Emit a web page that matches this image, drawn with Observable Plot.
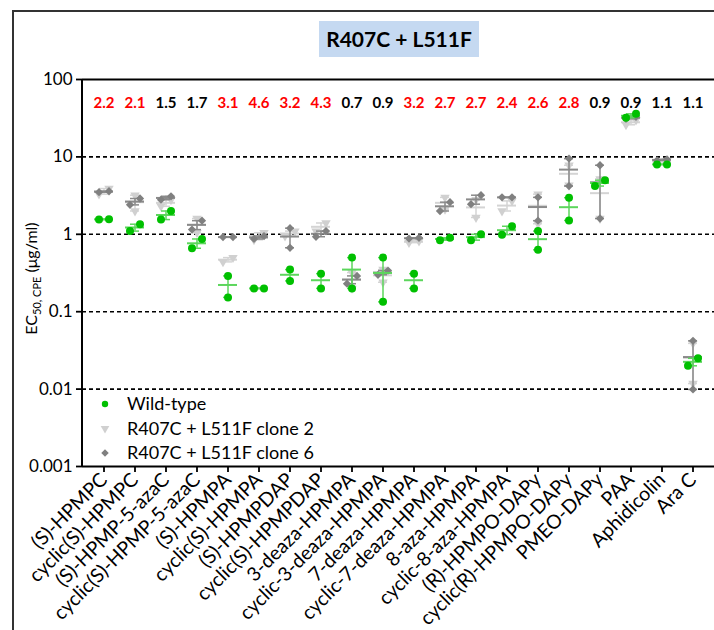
<!DOCTYPE html>
<html><head><meta charset="utf-8">
<script src="https://cdn.jsdelivr.net/npm/d3@7"></script>
<script src="https://cdn.jsdelivr.net/npm/@observablehq/plot@0.6"></script>
<style>
body{margin:0;background:#fff;}
#wrap{position:relative;width:714px;height:630px;overflow:hidden;font-family:Lato,sans-serif;}
#box{position:absolute;left:12px;top:10px;width:800px;height:800px;border:2px solid #333;box-sizing:border-box;}
#title{position:absolute;left:319px;top:21px;width:160px;height:36px;background:#c5d9f1;font-weight:700;font-size:21px;line-height:36px;text-align:center;color:#000;}
#chart{position:absolute;left:0;top:0;}
#chart svg [aria-label$="tick"] path, #chart svg g[aria-label$="axis"] line{stroke-width:1.8px;}
#chart svg g[aria-label="x-axis tick label"]{font-size:19.5px;}
</style></head><body>
<div id="wrap"><div id="box"></div><div id="chart"></div><div id="title">R407C + L511F</div></div>
<script>
const categories = ["(S)-HPMPC","cyclic(S)-HPMPC","(S)-HPMP-5-azaC","cyclic(S)-HPMP-5-azaC","(S)-HPMPA","cyclic(S)-HPMPA","(S)-HPMPDAP","cyclic(S)-HPMPDAP","3-deaza-HPMPA","cyclic-3-deaza-HPMPA","7-deaza-HPMPA","cyclic-7-deaza-HPMPA","8-aza-HPMPA","cyclic-8-aza-HPMPA","(R)-HPMPO-DAPy","cyclic(R)-HPMPO-DAPy","PMEO-DAPy","PAA","Aphidicolin","Ara C"];
const wildType = [[1.55,1.57],[1.10,1.35],[1.55,2.0],[0.66,0.87],[0.29,0.153],[0.2,0.2],[0.25,0.35],[0.31,0.20],[0.5,0.2],[0.5,0.134],[0.31,0.20],[0.84,0.9],[0.84,1.0],[0.99,1.27],[1.1,0.63],[2.97,1.51],[4.2,5.0],[32,36],[8.0,8.0],[0.025,0.020]];
const clone2 = [[3.9,3.3],[3.2,2.0],[2.8,2.3],[1.6,1.05],[0.44,0.50],[1.05,0.85],[1.1,0.95],[1.4,1.1],[0.32,0.2],[0.35,0.24],[0.78,0.82],[3.0,2.1],[2.8,1.65],[2.7,2.0],[3.3,1.37],[7.8,4.3],[5.2,1.6],[26,30],[8.6,8.9],[0.039,0.0118]];
const clone6 = [[3.6,3.5],[2.9,2.4],[3.1,2.8],[1.15,1.5],[0.92,0.92],[0.87,0.95],[1.2,0.67],[0.93,1.1],[0.23,0.29],[0.30,0.34],[0.88,0.9],[2.6,2.0],[3.2,2.45],[3.0,3.0],[3.0,1.5],[9.5,4.2],[7.8,1.6],[31,33],[9.0,9.3],[0.042,0.0099]];
const foldChange = [2.2,2.1,1.5,1.7,3.1,4.6,3.2,4.3,0.7,0.9,3.2,2.7,2.7,2.4,2.6,2.8,0.9,0.9,1.1,1.1];
const yTicks = [0.001,0.01,0.1,1,10,100];
const gridValues = [0.01,0.1,1,10];
const seriesNames = ["Wild-type","R407C + L511F clone 2","R407C + L511F clone 6"];

const triangleDown = {draw(ctx, size){const a=Math.sqrt(size*4/Math.sqrt(3)), h=a*Math.sqrt(3)/2; ctx.moveTo(-a/2,-h/3); ctx.lineTo(a/2,-h/3); ctx.lineTo(0,2*h/3); ctx.closePath();}};
const diamond = {draw(ctx, size){const d=Math.sqrt(size*2)/2; ctx.moveTo(0,-d); ctx.lineTo(d,0); ctx.lineTo(0,d); ctx.lineTo(-d,0); ctx.closePath();}};

const seriesList = [
  {name: seriesNames[1], values: clone2, fill: "#d0d0d0", line: "#d4d4d4", symbol: triangleDown, r: 3.5},
  {name: seriesNames[2], values: clone6, fill: "#808080", line: "#8a8a8a", symbol: diamond, r: 3.3},
  {name: seriesNames[0], values: wildType, fill: "#00c000", line: "#5cd65c", symbol: "circle", r: 4}
];

const marks = [
  Plot.ruleY(gridValues, {stroke: "#000", strokeWidth: 1.6, strokeDasharray: "4,3"}),
  Plot.ruleY([100], {stroke: "#000", strokeWidth: 2}),
  Plot.ruleY([0.001], {stroke: "#000", strokeWidth: 2})
];

for (const s of seriesList) {
  const stats = categories.map((c, i) => {
    const v = s.values[i];
    const m = d3.mean(v), sem = d3.deviation(v) / Math.sqrt(v.length);
    return {category: c, mean: m, lo: m - sem, hi: m + sem};
  });
  const pts = [];
  categories.forEach((c, i) => {
    const v = s.values[i].slice().sort((a, b) => a - b);
    const close = Math.abs(Math.log10(v[1]) - Math.log10(v[0])) < 0.14;
    v.forEach((val, j) => pts.push({category: c, value: val, off: close ? (j === 0 ? -5 : 5) : 0}));
  });
  marks.push(
    Plot.ruleX(stats, {x: "category", y1: "lo", y2: "hi", stroke: s.line, strokeWidth: 1.5}),
    Plot.tickY(stats, {x: "category", y: "lo", stroke: s.line, strokeWidth: 1.5, insetLeft: 11, insetRight: 11}),
    Plot.tickY(stats, {x: "category", y: "hi", stroke: s.line, strokeWidth: 1.5, insetLeft: 11, insetRight: 11}),
    Plot.tickY(stats, {x: "category", y: "mean", stroke: s.line, strokeWidth: 2, insetLeft: 6, insetRight: 6}),
    ...[-5, 0, 5].map(off => Plot.dot(pts.filter(p => p.off === off), {x: "category", y: "value", dx: off, symbol: s.symbol, r: s.r, fill: s.fill, stroke: "none"}))
  );
}

const foldTable = categories.map((c, i) => ({category: c, fold: foldChange[i]}));
marks.push(Plot.text(foldTable, {x: "category", text: d => d.fold.toFixed(1), frameAnchor: "top", dy: 18, fill: d => d.fold >= 2 ? "#ff0000" : "#000", fontSize: 15, fontWeight: 700}));

const plot = Plot.plot({
  width: 714, height: 630,
  marginLeft: 82, marginRight: 0, marginTop: 79, marginBottom: 164,
  style: {fontFamily: "Lato, sans-serif", fontSize: "17px", color: "#000", background: "transparent", overflow: "visible"},
  x: {domain: categories, padding: 0, tickRotate: -45, tickSize: 6, tickPadding: 4, label: null},
  y: {type: "log", domain: [0.001, 100], ticks: yTicks, tickFormat: d => String(d), tickSize: 6, tickPadding: 4, label: null},
  marks
});
document.getElementById("chart").appendChild(plot);

const svg = d3.select(plot);
const xr = plot.scale("x").range, yr = plot.scale("y").range;
const frameLeft = Math.min(...xr), frameTop = Math.min(...yr), frameBottom = Math.max(...yr);
svg.append("line").attr("x1", frameLeft).attr("x2", frameLeft).attr("y1", frameTop).attr("y2", frameBottom).attr("stroke", "#000").attr("stroke-width", 2);

const yl = svg.append("text").attr("transform", `translate(37,${(frameTop + frameBottom) / 2 + 6}) rotate(-90)`).attr("text-anchor", "middle").attr("font-family", "Lato, sans-serif").attr("fill", "#000");
yl.append("tspan").attr("font-size", 16).text("EC");
yl.append("tspan").attr("font-size", 11).attr("dy", 4).text("50, CPE");
yl.append("tspan").attr("font-size", 16).attr("dy", -4).text(" (μg/ml)");

const legSyms = [d3.symbolCircle, triangleDown, diamond];
const legFills = ["#00c000", "#d0d0d0", "#808080"];
const legSizes = [3.2, 3.2, 3.0];
seriesNames.forEach((name, i) => {
  const yy = frameBottom - 62 + i * 24.5;
  svg.append("path").attr("d", d3.symbol(legSyms[i], Math.PI * legSizes[i] ** 2)()).attr("transform", `translate(${frameLeft + 23},${yy})`).attr("fill", legFills[i]);
  svg.append("text").attr("x", frameLeft + 45).attr("y", yy).attr("dy", "0.35em").attr("text-anchor", "start").attr("font-size", 18).attr("font-family", "Lato, sans-serif").attr("fill", "#000").text(name);
});
</script>
</body></html>
